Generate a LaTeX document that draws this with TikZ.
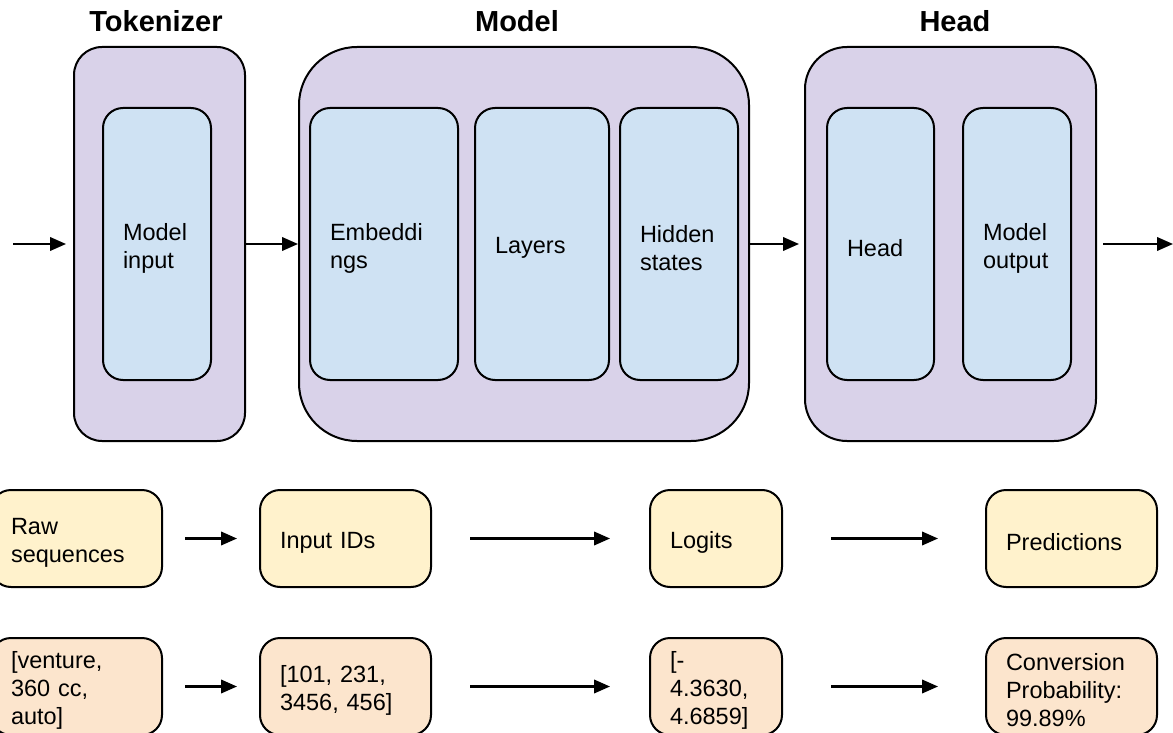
\documentclass[tikz,border=0pt]{standalone}
\usepackage{fontspec}
\setmainfont{Liberation Sans}
\usetikzlibrary{arrows.meta}
\definecolor{purp}{HTML}{D9D2E9}
\definecolor{lblue}{HTML}{CFE2F3}
\definecolor{yel}{HTML}{FFF2CC}
\definecolor{peach}{HTML}{FCE5CD}
\newcommand\lab{\fontsize{23.5}{28}\selectfont}
\newcommand\ttl{\fontsize{29}{34}\selectfont\bfseries}
\tikzset{
  outerbox/.style={draw, line width=2pt, fill=purp, rounded corners=#1,
    minimum height=394pt, inner sep=0pt},
  innerbox/.style={draw, line width=2pt, fill=lblue, rounded corners=20pt,
    minimum width=#1, inner sep=0pt, minimum height=272pt},
  rowbox/.style={draw, line width=2pt, rounded corners=20pt,
    minimum width=#1, inner sep=0pt, minimum height=97pt},
  txt/.style={text width=#1-40pt, inner sep=0pt, align=left, font=\lab, yshift=-4pt},
  titlelab/.style={anchor=base, font=\ttl, inner sep=0pt},
  arr/.style={line width=2.2pt, -{Triangle[length=16pt,width=13.5pt]}},
}
\begin{document}
\begin{tikzpicture}[x=1pt,y=-1pt]
\useasboundingbox (0,0) rectangle (1173,733);
\clip (0,0) rectangle (1173,733);
% titles
\node[titlelab] (ttok) at (156,32) {Tokenizer};
\node[titlelab] (tmod) at (517,32) {Model};
\node[titlelab] (thead) at (955,32) {Head};
% outer boxes
\node[outerbox=28pt, minimum width=171pt] (tok) at (159.5,244) {};
\node[outerbox=58pt, minimum width=450pt] (mod) at (524,244) {};
\node[outerbox=42pt, minimum width=291pt] (hd) at (950.5,244) {};
% inner boxes
\node[innerbox=108pt, label={[txt=108pt]center:{Model\\input}}] (minput) at (157,244) {};
\node[innerbox=148pt, label={[txt=148pt]center:{Embeddi\\ngs}}] (emb) at (384,244) {};
\node[innerbox=134pt, label={[txt=134pt]center:{Layers}}] (lay) at (542,244) {};
\node[innerbox=118pt, label={[txt=118pt]center:{Hidden\\states}}] (hid) at (679,244) {};
\node[innerbox=107pt, label={[txt=107pt]center:{Head}}] (hinner) at (880.5,244) {};
\node[innerbox=108pt, label={[txt=108pt]center:{Model\\output}}] (mout) at (1017,244) {};
% top arrows
\coordinate (inpt) at (13,244);
\coordinate (outpt) at (1173,244);
\draw[arr, shorten >=7pt] (inpt) -- (tok.west);
\draw[arr] (tok.east) -- (mod.west);
\draw[arr, shorten >=5pt] (mod.east) -- (hd.west);
\draw[arr, shorten <=6pt] (hd.east) -- (outpt);
% row 1
\node[rowbox=171pt, fill=yel, label={[txt=171pt]center:{Raw\\sequences}}] (raw) at (76.5,538.5) {};
\node[rowbox=171pt, fill=yel, label={[txt=171pt]center:{Input IDs}}] (ids) at (345.5,538.5) {};
\node[rowbox=132pt, fill=yel, label={[txt=132pt]center:{Logits}}] (logits) at (716,538.5) {};
\node[rowbox=171pt, fill=yel, label={[txt=171pt]center:{Predictions}}] (pred) at (1071.5,538.5) {};
\draw[arr, shorten <=22pt, shorten >=22pt] (raw) -- (ids);
\draw[arr, shorten <=38pt, shorten >=39pt] (ids) -- (logits);
\draw[arr, shorten <=48pt, shorten >=47pt] (logits) -- (pred);
% row 2
\node[rowbox=171pt, fill=peach, label={[txt=171pt]center:{[venture,\\360 cc,\\auto]}}] (rawex) at (76.5,686.5) {};
\node[rowbox=171pt, fill=peach, label={[txt=171pt]center:{[101, 231,\\3456, 456]}}] (idsex) at (345.5,686.5) {};
\node[rowbox=132pt, fill=peach, label={[txt=132pt]center:{[-\\4.3630,\\4.6859]}}] (logex) at (716,686.5) {};
\node[rowbox=171pt, fill=peach, label={[txt=171pt]center:{Conversion\\Probability:\\99.89\%}}] (predex) at (1071.5,686.5) {};
\draw[arr, shorten <=22pt, shorten >=22pt] (rawex) -- (idsex);
\draw[arr, shorten <=38pt, shorten >=39pt] (idsex) -- (logex);
\draw[arr, shorten <=48pt, shorten >=47pt] (logex) -- (predex);
\end{tikzpicture}
\end{document}
